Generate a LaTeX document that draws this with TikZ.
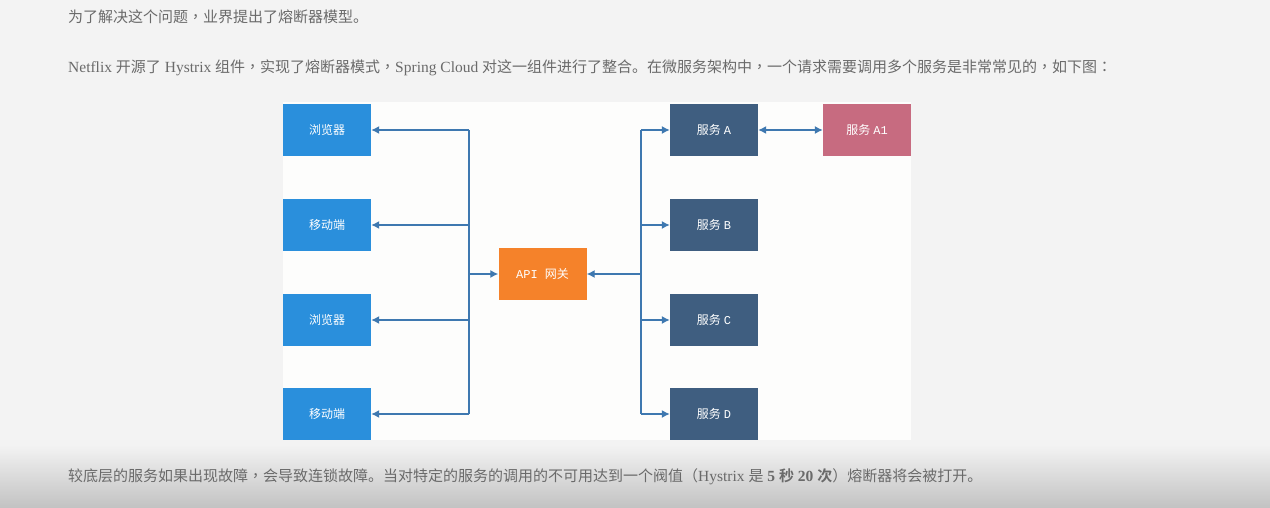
\documentclass[tikz,border=0pt]{standalone}
\usepackage{fontspec}
\setmainfont{Liberation Serif}
\newfontfamily\cjk{Noto Sans CJK SC}[BoldFont={Noto Sans CJK SC Bold}]
\newfontfamily\cjktc{Noto Sans CJK TC}
\newfontfamily\boxmono{Liberation Mono}
\newcommand{\zcomma}{{\cjktc ，}}
\newcommand{\zcolon}{{\cjktc ：}}
\newcommand{\zlp}{{\cjktc （}}
\newcommand{\zrp}{{\cjktc ）}}
\usetikzlibrary{arrows.meta}
\definecolor{bgc}{HTML}{F3F3F3}
\definecolor{bgd}{HTML}{C2C2C2}
\definecolor{panel}{HTML}{FDFDFC}
\definecolor{txtc}{HTML}{6A6A6A}
\definecolor{cblue}{HTML}{2A8FDC}
\definecolor{corange}{HTML}{F5822A}
\definecolor{cslate}{HTML}{3F5E80}
\definecolor{cpink}{HTML}{C76B80}
\definecolor{cline}{HTML}{3E78B0}
\tikzset{
  txt/.style={text=txtc, inner sep=0pt, anchor=west, font=\fontsize{15.5}{17}\selectfont},
  box/.style={minimum width=88pt, minimum height=52pt, inner sep=0pt, text=white, font=\fontsize{12}{14}\selectfont},
  client/.style={box, fill=cblue},
  gate/.style={box, fill=corange},
  svc/.style={box, fill=cslate},
  svcb/.style={box, fill=cpink},
  tip/.style={-{Latex[length=8pt,width=8pt]}},
  conn/.style={draw=cline, line width=1.3pt, tip},
  wire/.style={draw=cline, line width=1.3pt}
}
\newcommand{\zh}[1]{{\cjk\fontsize{15}{17}\selectfont #1}}
\begin{document}
\begin{tikzpicture}[x=1pt,y=-1pt]
\fill[bgc] (0,0) rectangle (1270,508);
\shade[top color=bgc, bottom color=bgd] (0,445) rectangle (1270,508);
\useasboundingbox (0,0) rectangle (1270,508);
\fill[panel] (283,102) rectangle (911,440);

\node[txt] (l1) at (68,17) {\zh{为了解决这个问题\zcomma 业界提出了熔断器模型。}};
\node[txt] (l2) at (68,68) {Netflix \zh{开源了} Hystrix \zh{组件\zcomma 实现了熔断器模式\zcomma}Spring Cloud \zh{对这一组件进行了整合。在微服务架构中\zcomma 一个请求需要调用多个服务是非常常见的\zcomma 如下图\zcolon}};
\node[txt] (l3) at (68,477) {\zh{较底层的服务如果出现故障\zcomma 会导致连锁故障。当对特定的服务的调用的不可用达到一个阀值\zlp}Hystrix \zh{是} \textbf{5 \zh{\bfseries 秒} 20 \zh{\bfseries 次}}\zh{\zrp 熔断器将会被打开。}};

\node[client] (b1) at (327,130) {\cjk 浏览器};
\node[client] (m1) at (327,225) {\cjk 移动端};
\node[client] (b2) at (327,320) {\cjk 浏览器};
\node[client] (m2) at (327,414) {\cjk 移动端};
\node[gate] (gw) at (542.5,274) {\boxmono API {\cjk 网关}};
\node[svc] (sa) at (714,130) {{\cjk 服务} \boxmono A};
\node[svc] (sb) at (714,225) {{\cjk 服务} \boxmono B};
\node[svc] (sc) at (714,320) {{\cjk 服务} \boxmono C};
\node[svc] (sd) at (714,414) {{\cjk 服务} \boxmono D};
\node[svcb] (sa1) at (867,130) {{\cjk 服务} \boxmono A1};

\coordinate (lt) at (469,130);
\coordinate (lb) at (469,414);
\coordinate (rt) at (641,130);
\coordinate (rb) at (641,414);
\draw[wire] (lt) -- (lb);
\draw[wire] (rt) -- (rb);
\draw[conn] (lt) -- (b1.east);
\draw[conn] (469,225) -- (m1.east);
\draw[conn] (469,320) -- (b2.east);
\draw[conn] (lb) -- (m2.east);
\draw[conn] (469,274) -- (gw.west);
\draw[conn] (641,274) -- (gw.east);
\draw[conn] (rt) -- (sa.west);
\draw[conn] (641,225) -- (sb.west);
\draw[conn] (641,320) -- (sc.west);
\draw[conn] (rb) -- (sd.west);
\draw[conn, {Latex[length=8pt,width=8pt]}-{Latex[length=8pt,width=8pt]}] (sa.east) -- (sa1.west);
\end{tikzpicture}
\end{document}
